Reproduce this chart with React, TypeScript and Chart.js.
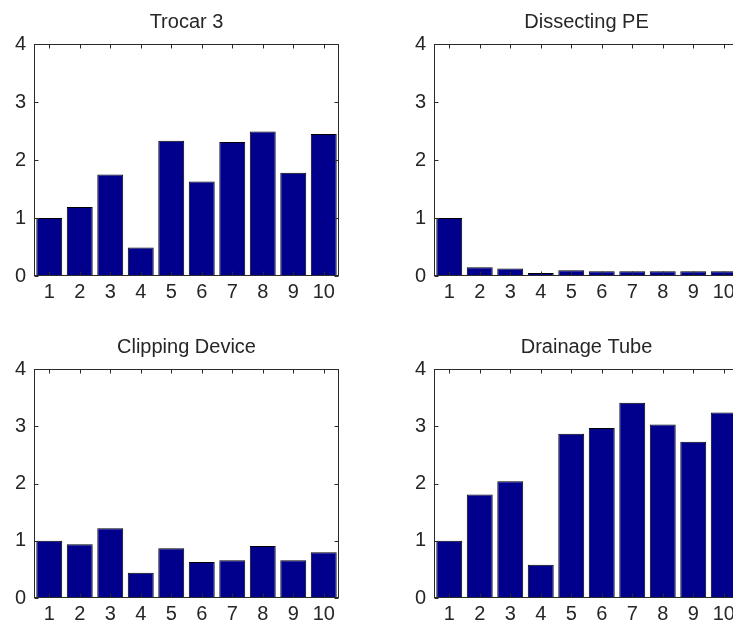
import React, { useEffect, useRef } from "react";
import { Chart, registerables } from "chart.js";

Chart.register(...registerables);

const categories = ["1", "2", "3", "4", "5", "6", "7", "8", "9", "10"];
const yTicks = [0, 1, 2, 3, 4];

const trocar3 = [1.0, 1.19, 1.75, 0.49, 2.33, 1.63, 2.31, 2.49, 1.78, 2.45];
const dissectingPE = [1.0, 0.15, 0.13, 0.05, 0.1, 0.08, 0.08, 0.08, 0.08, 0.08];
const clippingDevice = [1.0, 0.94, 1.22, 0.44, 0.87, 0.63, 0.66, 0.91, 0.66, 0.8];
const drainageTube = [1.0, 1.81, 2.04, 0.58, 2.87, 2.97, 3.41, 3.03, 2.73, 3.24];

const FONT = "'Liberation Sans', Arial, sans-serif";
const TEXT = "#262626";
const BAR = "#00008C";
const AXIS = "#2a2a2a";

const boxPlugin = {
  id: "matlabBox",
  afterDraw(chart: any) {
    const { ctx, chartArea: a, scales } = chart;
    const xs = scales.x;
    const ys = scales.y;
    ctx.save();
    ctx.strokeStyle = AXIS;
    ctx.lineWidth = 1;
    const L = Math.round(a.left) + 0.5;
    const R = Math.round(a.right) - 0.5;
    const T = Math.round(a.top) + 0.5;
    const B = Math.round(a.bottom) - 0.5;
    ctx.strokeRect(L, T, R - L, B - T);
    ctx.beginPath();
    categories.forEach((_, i) => {
      const px = Math.round(xs.getPixelForValue(i)) + 0.5;
      ctx.moveTo(px, B);
      ctx.lineTo(px, B - 4);
      ctx.moveTo(px, T);
      ctx.lineTo(px, T + 4);
    });
    yTicks.forEach((v) => {
      const py = Math.round(ys.getPixelForValue(v)) + 0.5;
      ctx.moveTo(L, py);
      ctx.lineTo(L + 4, py);
      ctx.moveTo(R, py);
      ctx.lineTo(R - 4, py);
    });
    ctx.stroke();
    ctx.restore();
  },
};

type PanelProps = {
  title: string;
  values: number[];
  left: number;
  top: number;
  bottomPad: number;
};

const W = 373;
const H = 310;

function Panel({ title, values, left, top, bottomPad }: PanelProps) {
  const ref = useRef<HTMLCanvasElement | null>(null);
  useEffect(() => {
    if (!ref.current) return;
    const chart = new Chart(ref.current, {
      type: "bar",
      data: {
        labels: categories,
        datasets: [
          {
            data: values,
            backgroundColor: BAR,
            borderColor: "#000000",
            borderWidth: 1,
            barPercentage: 0.85,
            categoryPercentage: 1,
          },
        ],
      },
      options: {
        responsive: false,
        animation: false,
        devicePixelRatio: 1,
        layout: { padding: { left: 0, right: 0, top: 0, bottom: bottomPad } },
        plugins: {
          legend: { display: false },
          tooltip: { enabled: false },
          title: {
            display: true,
            text: title,
            color: TEXT,
            font: { family: FONT, size: 20, weight: "normal" },
            padding: { top: 10, bottom: 10 },
          },
        },
        scales: {
          x: {
            type: "category",
            offset: true,
            grid: { display: false, drawTicks: false },
            border: { display: false },
            ticks: {
              color: TEXT,
              font: { family: FONT, size: 20 },
              padding: 4,
              maxRotation: 0,
              autoSkip: false,
            },
            afterFit: (s: any) => {
              s.height = 24;
            },
          },
          y: {
            type: "linear",
            position: "left",
            min: 0,
            max: 4,
            grid: { display: false, drawTicks: false },
            border: { display: false },
            ticks: {
              stepSize: 1,
              color: TEXT,
              font: { family: FONT, size: 20 },
              padding: 8,
            },
            afterFit: (s: any) => {
              s.width = 34;
            },
          },
          yR: {
            type: "linear",
            position: "right",
            display: true,
            grid: { display: false, drawTicks: false },
            border: { display: false },
            ticks: { display: false },
            afterFit: (s: any) => {
              s.width = 34;
            },
          },
        },
      } as any,
      plugins: [boxPlugin],
    });
    return () => chart.destroy();
  }, [title, values, bottomPad]);
  return (
    <canvas
      ref={ref}
      width={W}
      height={H}
      style={{ position: "absolute", left, top, width: W, height: H }}
    />
  );
}

export default function App() {
  return (
    <div
      style={{
        position: "absolute",
        left: 0,
        top: 0,
        width: 733,
        height: 628,
        overflow: "hidden",
        background: "#ffffff",
      }}
    >
      <Panel title="Trocar 3" values={trocar3} left={0} top={0} bottomPad={10} />
      <Panel title="Dissecting PE" values={dissectingPE} left={400} top={0} bottomPad={10} />
      <Panel title="Clipping Device" values={clippingDevice} left={0} top={325} bottomPad={13} />
      <Panel title="Drainage Tube" values={drainageTube} left={400} top={325} bottomPad={13} />
    </div>
  );
}
